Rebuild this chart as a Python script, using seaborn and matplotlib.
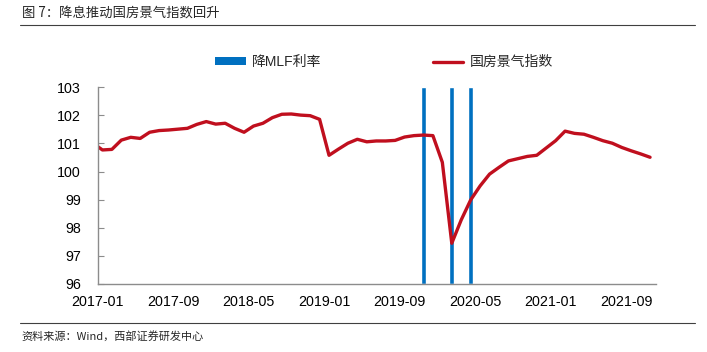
#!/usr/bin/env python3
"""降息推动国房景气指数回升"""

import pandas as pd
import matplotlib
matplotlib.use('Agg')
import matplotlib.pyplot as plt
from matplotlib.lines import Line2D
from matplotlib.patches import Patch
import seaborn as sns

# データ
months = pd.period_range('2016-12', '2021-11', freq='M').strftime('%Y-%m').tolist()
climate_index = [
    101.01,
    100.77, 100.79, 101.12, 101.22, 101.18, 101.40, 101.46, 101.48, 101.51, 101.54,
    101.68, 101.78, 101.69, 101.72, 101.54, 101.40, 101.62, 101.72, 101.92, 102.04,
    102.05, 102.01, 101.99, 101.86, 100.58, 100.80, 101.01, 101.15, 101.06, 101.09,
    101.09, 101.11, 101.23, 101.28, 101.30, 101.28, 100.33, 97.45, 98.28, 98.99,
    99.49, 99.91, 100.15, 100.38, 100.46, 100.54, 100.58, 100.84, 101.10, 101.44,
    101.36, 101.33, 101.22, 101.10, 101.01, 100.86, 100.74, 100.63, 100.51,
]
mlf_months = ['2019-11', '2020-02', '2020-04']
mlf_flag = [1, 1, 1]
tick_labels = ['2017-01', '2017-09', '2018-05', '2019-01',
               '2019-09', '2020-05', '2021-01', '2021-09']

start = pd.Period('2017-01', freq='M')


def month_pos(m):
    # 月の中央に配置
    return (pd.Period(m, freq='M') - start).n + 0.5


df = pd.DataFrame({'month': months, 'value': climate_index})
df['x'] = [month_pos(m) for m in df['month']]
bar_x = [month_pos(m) for m in mlf_months]
tick_x = [(pd.Period(t, freq='M') - start).n for t in tick_labels]

sns.set_theme(style='white')
plt.rcParams['font.family'] = ['Liberation Sans', 'Noto Sans CJK SC', 'DejaVu Sans']

blue = '#0070C0'
red = '#C00F1E'
grey = '#8C8C8C'

fig = plt.figure(figsize=(7.07, 3.52), dpi=100)
ax = fig.add_axes([0.1382, 0.1932, 0.7898, 0.5588])

# 降MLF利率（副軸の棒）
ax2 = ax.twinx()
ax2.bar(bar_x, mlf_flag, width=0.5, color=blue, zorder=1)
ax2.set_ylim(0, 1)
ax2.set_yticks([])
for s in ax2.spines.values():
    s.set_visible(False)

# 国房景気指数
ax.set_zorder(ax2.get_zorder() + 1)
ax.patch.set_visible(False)
sns.lineplot(data=df, x='x', y='value', ax=ax, color=red, linewidth=2.4, legend=False)

ax.set_xlim(0, 59.14)
ax.set_ylim(96, 103)
ax.set_xticks(tick_x)
ax.set_xticklabels(tick_labels)
ax.set_yticks(range(96, 104))
ax.set_xlabel('')
ax.set_ylabel('')
ax.tick_params(axis='both', direction='in', length=4, width=0.8, color=grey,
               labelsize=10.3, colors='black')
ax.tick_params(axis='y', pad=12)
ax.tick_params(axis='x', pad=8)
for side in ['top', 'right']:
    ax.spines[side].set_visible(False)
for side in ['left', 'bottom']:
    ax.spines[side].set_color(grey)
    ax.spines[side].set_linewidth(1.0)

# 凡例
handles = [Patch(facecolor=blue, edgecolor='none'),
           Line2D([0], [0], color=red, linewidth=2.4)]
fig.legend(handles, ['降MLF利率', '国房景气指数'], loc='center',
           bbox_to_anchor=(0.543, 0.824), ncol=2, frameon=False,
           prop={'family': ['Liberation Sans', 'Noto Sans CJK SC'], 'size': 10},
           handlelength=2.2, handleheight=0.45, handletextpad=0.45, columnspacing=8.0)

# タイトルと出所
fig.text(0.031, 1 - 13 / 352, '图 7：降息推动国房景气指数回升', ha='left', va='center',
         fontsize=9.6, family=['Noto Sans CJK SC'])
fig.add_artist(Line2D([0.028, 0.983], [1 - 25 / 352] * 2, color='#404040', linewidth=0.8))
fig.add_artist(Line2D([0.028, 0.983], [1 - 322.7 / 352] * 2, color='#404040', linewidth=0.8))
fig.text(0.031, 1 - 336 / 352, '资料来源：Wind，西部证券研发中心', ha='left', va='center',
         fontsize=8, family=['Noto Sans CJK SC'])

plt.savefig('out.png', dpi=100)
